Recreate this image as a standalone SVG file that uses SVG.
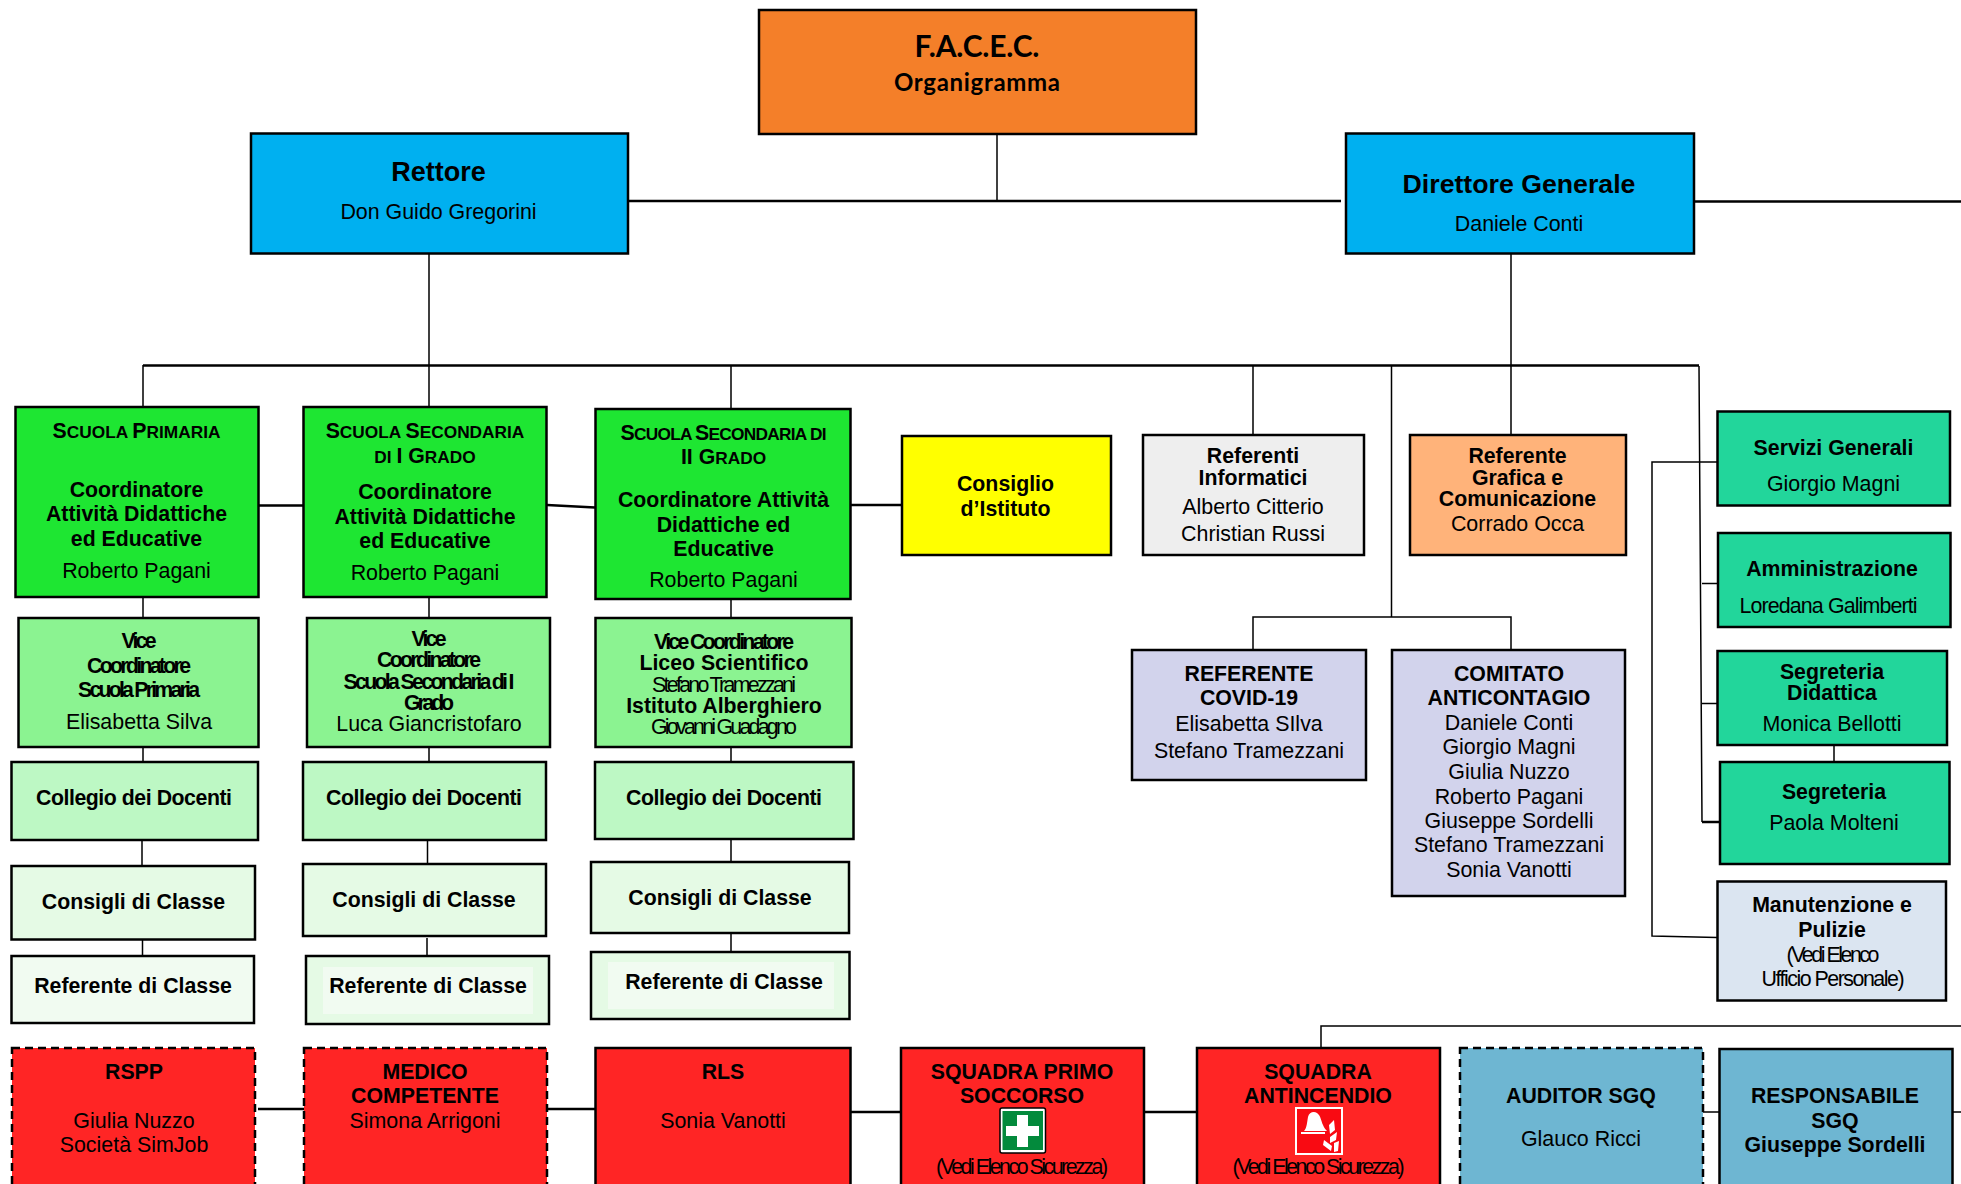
<svg xmlns="http://www.w3.org/2000/svg" width="1961" height="1184" viewBox="0 0 1961 1184">
<style>
text{font-family:"Liberation Sans",Arial,sans-serif;font-size:21.400px;text-anchor:middle;fill:#000}
.b{font-weight:700;font-size:21.300px}
.sc{font-size:17.300px}
.box{stroke:#000;stroke-width:2.500}
.dash{stroke-dasharray:8 5}
.orange{fill:#f47f29}.blue{fill:#00b0f0}.g1{fill:#1ee632}.g2{fill:#8bf391}.g3{fill:#bdf8c4}.g4{fill:#e5fae5}.g5{fill:#f1fbf1}
.red{fill:#ff2525}.yellow{fill:#ff0}.gray{fill:#eee}.peach{fill:#ffb37a}.lav{fill:#d2d3ec}.teal{fill:#22d69b}.pale{fill:#dbe5f1}.sgq{fill:#6eb6d2}
#connectors path{fill:none;stroke:#000;stroke-width:1.500}
#connectors .thick{stroke-width:2.500}
</style>
<defs><clipPath id="clipSec2"><rect x="595" y="409" width="255" height="184"/></clipPath></defs>
<rect width="1961" height="1184" fill="#fff"/>
<g id="connectors">
<path d="M997 134V201"/>
<path class="thick" d="M625 201H1341"/>
<path class="thick" d="M1694 201.500H1961"/>
<path d="M429 254V407M1511 254V435"/>
<path class="thick" d="M143 365.500H1699"/>
<path d="M143 365V407M731 366V409M1253 366V435M1391.500 366V617M1253 650V617H1511V650"/>
<path d="M1699 366L1702 822M1702 583.500H1722M1702 703.500H1722"/>
<path class="thick" d="M1702 822H1722"/>
<path d="M1717 462H1652V936L1717 937.500M1834 745V762"/>
<path class="thick" d="M256 505.500H303M547 505L595 507.500M851 505H902"/>
<path d="M143 597V618M143 747V762M142 840V866M142.500 940V956"/>
<path d="M429 597V618M429 747V762M427.500 840V866M427 938V956"/>
<path d="M731 599V618M731 747V762M731 839V862M731 933V952"/>
<path class="thick" d="M258 1109H304M547 1109H595M850 1112H901M1144 1112H1197"/>
<path d="M1703 1112H1720M1952 1112H1961"/>
<path d="M1321 1048V1026H1961"/>
</g>

<g id="facec"><rect class="box orange" x="759" y="10" width="437" height="124"/>
<text class="b" x="977" y="57" style="font-family:Lato,sans-serif;font-size:30px" textLength="125">F.A.C.E.C.</text>
<text class="b" x="977" y="90.500" style="font-family:Lato,sans-serif;font-size:24px" textLength="166">Organigramma</text></g>
<g id="rettore"><rect class="box blue" x="251" y="133.500" width="377" height="120"/>
<text class="b" x="438.500" y="180.500" style="font-size:27px">Rettore</text>
<text x="438.500" y="218.500">Don Guido Gregorini</text></g>
<g id="direttore"><rect class="box blue" x="1346" y="133.500" width="348" height="120"/>
<text class="b" x="1519" y="192.500" style="font-size:26.700px">Direttore Generale</text>
<text x="1519" y="230.500">Daniele Conti</text></g>

<g id="primaria"><rect class="box g1" x="15.500" y="407" width="243" height="190"/>
<text class="b" x="136.500" y="438">S<tspan class="sc">CUOLA </tspan>P<tspan class="sc">RIMARIA</tspan></text>
<text class="b" x="136.500" y="497">Coordinatore</text>
<text class="b" x="136.500" y="521">Attività Didattiche</text>
<text class="b" x="136.500" y="546">ed Educative</text>
<text x="136.500" y="578">Roberto Pagani</text></g>
<g id="secondaria1"><rect class="box g1" x="303.500" y="407" width="243" height="190"/>
<text class="b" x="425" y="438">S<tspan class="sc">CUOLA </tspan>S<tspan class="sc">ECONDARIA</tspan></text>
<text class="b" x="425" y="463"><tspan class="sc">DI </tspan>I G<tspan class="sc">RADO</tspan></text>
<text class="b" x="425" y="499">Coordinatore</text>
<text class="b" x="425" y="524">Attività Didattiche</text>
<text class="b" x="425" y="548">ed Educative</text>
<text x="425" y="580">Roberto Pagani</text></g>
<g id="secondaria2"><rect class="box g1" x="595.500" y="409" width="255" height="190"/>
<text class="b" x="723.500" y="440" textLength="206">S<tspan class="sc">CUOLA </tspan>S<tspan class="sc">ECONDARIA DI</tspan></text>
<text class="b" x="723.500" y="464">II G<tspan class="sc">RADO</tspan></text>
<text class="b" x="723.500" y="507">Coordinatore Attività</text>
<text class="b" x="723.500" y="532">Didattiche ed</text>
<text class="b" x="723.500" y="556">Educative</text>
<text x="723.500" y="587" clip-path="url(#clipSec2)">Roberto Pagani</text></g>

<g id="vice1"><rect class="box g2" x="18.500" y="618" width="240" height="129"/>
<text class="b" x="139" y="648" textLength="35">Vice</text>
<text class="b" x="139" y="673" textLength="104">Coordinatore</text>
<text class="b" x="139" y="697" textLength="122">Scuola Primaria</text>
<text x="139" y="729">Elisabetta Silva</text></g>
<g id="vice2"><rect class="box g2" x="307" y="618" width="243" height="129"/>
<text class="b" x="429" y="646" textLength="35">Vice</text>
<text class="b" x="429" y="667" textLength="104">Coordinatore</text>
<text class="b" x="429" y="689" textLength="171">Scuola Secondaria di I</text>
<text class="b" x="429" y="710" textLength="50">Grado</text>
<text x="429" y="731">Luca Giancristofaro</text></g>
<g id="vice3"><rect class="box g2" x="595.500" y="618" width="256" height="129"/>
<text class="b" x="724" y="649" textLength="140">Vice Coordinatore</text>
<text class="b" x="724" y="670">Liceo Scientifico</text>
<text x="724" y="692" textLength="144">Stefano Tramezzani</text>
<text class="b" x="724" y="713">Istituto Alberghiero</text>
<text x="724" y="734" textLength="146">Giovanni Guadagno</text></g>

<g id="collegio1"><rect class="box g3" x="11.500" y="762" width="246.500" height="78"/><text class="b" x="134" y="805" textLength="196">Collegio dei Docenti</text></g>
<g id="collegio2"><rect class="box g3" x="303" y="762" width="243" height="78"/><text class="b" x="424" y="805" textLength="196">Collegio dei Docenti</text></g>
<g id="collegio3"><rect class="box g3" x="595" y="762" width="258.500" height="77"/><text class="b" x="724" y="805" textLength="196">Collegio dei Docenti</text></g>
<g id="consigli1"><rect class="box g4" x="11.500" y="866" width="243.500" height="73.500"/><text class="b" x="133.500" y="909">Consigli di Classe</text></g>
<g id="consigli2"><rect class="box g4" x="303" y="864" width="243" height="72"/><text class="b" x="424" y="906.500">Consigli di Classe</text></g>
<g id="consigli3"><rect class="box g4" x="591" y="862" width="258" height="71"/><text class="b" x="720" y="904.500">Consigli di Classe</text></g>
<g id="referente1"><rect class="box g5" x="11.500" y="956" width="242.500" height="67"/><text class="b" x="133" y="992.500">Referente di Classe</text></g>
<g id="referente2"><rect class="box g4" x="306" y="956" width="243" height="68"/><rect class="g5" x="323" y="967" width="210" height="47"/><text class="b" x="428" y="992.500">Referente di Classe</text></g>
<g id="referente3"><rect class="box g4" x="591" y="952" width="258.500" height="67"/><rect class="g5" x="608" y="962" width="226" height="47"/><text class="b" x="724" y="988.500">Referente di Classe</text></g>

<g id="consiglio-istituto"><rect class="box yellow" x="902" y="436" width="209" height="119"/>
<text class="b" x="1005.500" y="491">Consiglio</text><text class="b" x="1005.500" y="516">d’Istituto</text></g>
<g id="referenti-informatici"><rect class="box gray" x="1143" y="435" width="221" height="120"/>
<text class="b" x="1253" y="463">Referenti</text><text class="b" x="1253" y="485">Informatici</text>
<text x="1253" y="514">Alberto Citterio</text><text x="1253" y="540.500">Christian Russi</text></g>
<g id="referente-grafica"><rect class="box peach" x="1410" y="435" width="216" height="120"/>
<text class="b" x="1517.500" y="463">Referente</text><text class="b" x="1517.500" y="485">Grafica e</text><text class="b" x="1517.500" y="506">Comunicazione</text>
<text x="1517.500" y="531">Corrado Occa</text></g>
<g id="covid"><rect class="box lav" x="1132" y="650" width="234" height="130"/>
<text class="b" x="1249" y="680.500">REFERENTE</text><text class="b" x="1249" y="705">COVID-19</text>
<text x="1249" y="730.500">Elisabetta SIlva</text><text x="1249" y="757.500">Stefano Tramezzani</text></g>
<g id="comitato"><rect class="box lav" x="1392" y="650" width="233" height="246"/>
<text class="b" x="1509" y="680.500">COMITATO</text><text class="b" x="1509" y="705">ANTICONTAGIO</text>
<text x="1509" y="730">Daniele Conti</text><text x="1509" y="754">Giorgio Magni</text><text x="1509" y="779">Giulia Nuzzo</text>
<text x="1509" y="804">Roberto Pagani</text><text x="1509" y="828">Giuseppe Sordelli</text><text x="1509" y="852">Stefano Tramezzani</text><text x="1509" y="877">Sonia Vanotti</text></g>
<g id="servizi"><rect class="box teal" x="1717.500" y="411.500" width="232.500" height="94"/>
<text class="b" x="1833.500" y="455">Servizi Generali</text><text x="1833.500" y="491">Giorgio Magni</text></g>
<g id="amministrazione"><rect class="box teal" x="1718" y="533" width="232.500" height="94"/>
<text class="b" x="1832" y="576">Amministrazione</text><text x="1828.500" y="613" textLength="178">Loredana Galimberti</text></g>
<g id="segreteria-didattica"><rect class="box teal" x="1717.500" y="651" width="229.500" height="94"/>
<text class="b" x="1832" y="679">Segreteria</text><text class="b" x="1832" y="700">Didattica</text><text x="1832" y="731">Monica Bellotti</text></g>
<g id="segreteria"><rect class="box teal" x="1720" y="762" width="229.500" height="102"/>
<text class="b" x="1834" y="799">Segreteria</text><text x="1834" y="830">Paola Molteni</text></g>
<g id="manutenzione"><rect class="box pale" x="1717.500" y="881.500" width="228.500" height="119"/>
<text class="b" x="1832" y="912">Manutenzione e</text><text class="b" x="1832" y="937">Pulizie</text>
<text x="1833" y="961.500" textLength="93">(Vedi Elenco</text><text x="1833" y="986" textLength="143">Ufficio Personale)</text></g>

<g id="rspp"><rect class="box dash red" x="12" y="1048" width="243" height="150"/>
<text class="b" x="134" y="1078.500">RSPP</text><text x="134" y="1127.500">Giulia Nuzzo</text><text x="134" y="1151.500">Società SimJob</text></g>
<g id="medico"><rect class="box dash red" x="304" y="1048" width="243" height="150"/>
<text class="b" x="425" y="1078.500">MEDICO</text><text class="b" x="425" y="1102.500">COMPETENTE</text><text x="425" y="1127.500">Simona Arrigoni</text></g>
<g id="rls"><rect class="box red" x="595.500" y="1048" width="255" height="150"/>
<text class="b" x="723" y="1078.500">RLS</text><text x="723" y="1127.500">Sonia Vanotti</text></g>
<g id="primo-soccorso"><rect class="box red" x="901" y="1048" width="243" height="150"/>
<text class="b" x="1022" y="1078.500">SQUADRA PRIMO</text><text class="b" x="1022" y="1102.500">SOCCORSO</text>
<rect x="1000" y="1108" width="45.500" height="45" rx="2" fill="#fff" stroke="#000" stroke-width="1.500"/>
<rect x="1002.500" y="1111" width="40.500" height="39" fill="#038a3c"/>
<path d="M1017 1115h11v11h11v10h-11v11h-11v-11h-11v-10h11z" fill="#fff"/>
<text x="1022" y="1174" textLength="172">(Vedi Elenco Sicurezza)</text></g>
<g id="antincendio"><rect class="box red" x="1197" y="1048" width="243" height="150"/>
<text class="b" x="1318" y="1078.500">SQUADRA</text><text class="b" x="1318" y="1102.500">ANTINCENDIO</text>
<rect x="1295" y="1107" width="48" height="48" fill="#fff"/><rect x="1297" y="1109" width="44" height="44" fill="#f90a12"/>
<path d="M1304 1131c3-3 3-9 4-14c1-5 6-6 9-4c4 3 4 8 6 12c1 3 3 5 4 6z" fill="#fff"/><rect x="1301" y="1132" width="24" height="2" fill="#fff"/>
<path d="M1329 1125l5-5 1 10-5 4zM1330 1137l7-5-1 8-6 3zM1324 1140l8 6-1 5-8-6zM1334 1143l5-2-1 10-4 1z" fill="#fff"/>
<text x="1318.500" y="1174" textLength="172">(Vedi Elenco Sicurezza)</text></g>
<g id="auditor"><rect class="box dash sgq" x="1460" y="1048" width="243" height="150"/>
<text class="b" x="1581" y="1102.500">AUDITOR SGQ</text><text x="1581" y="1145.500">Glauco Ricci</text></g>
<g id="responsabile"><rect class="box sgq" x="1719.500" y="1049" width="233" height="150"/>
<text class="b" x="1835" y="1103">RESPONSABILE</text><text class="b" x="1835" y="1128">SGQ</text><text class="b" x="1835" y="1152">Giuseppe Sordelli</text></g>
</svg>
